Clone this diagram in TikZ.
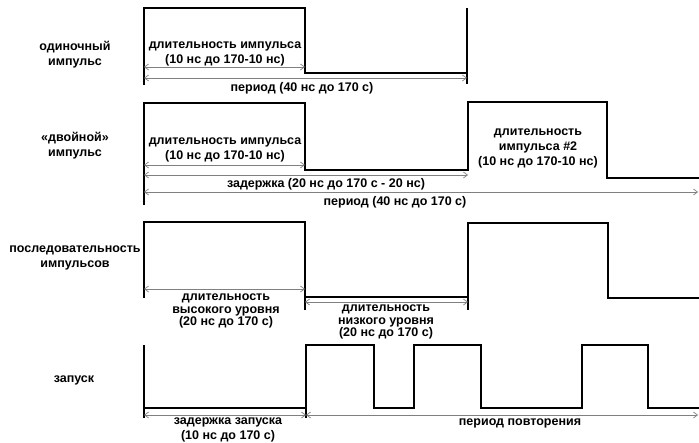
\documentclass[tikz,border=0pt]{standalone}
\usepackage{fontspec}
\setmainfont{Liberation Sans}
\usetikzlibrary{arrows.meta}
\begin{document}
\begin{tikzpicture}[
    x=1pt, y=-1pt,
    every node/.style={font=\fontsize{12.5}{15}\selectfont\bfseries, align=center, inner sep=0pt},
    tight/.style={font=\fontsize{12.5}{12.5}\selectfont\bfseries},
    sig/.style={line width=1.8pt, line join=miter},
    dim/.style={gray, line width=0.7pt, {Straight Barb[length=4pt,width=6pt]}-{Straight Barb[length=4pt,width=6pt]}}
]
\useasboundingbox (0,0) rectangle (699,443);

% одиночный импульс
\draw[sig] (144,85) -- (144,8) -- (305,8) -- (305,73) -- (467,73);
\draw[sig] (467,84) -- (467,8);
\coordinate (s1a) at (144,67); \coordinate (s1b) at (305,67);
\coordinate (s1c) at (144,78); \coordinate (s1d) at (467,78);
\draw[dim] (s1a) -- (s1b);
\draw[dim] (s1c) -- (s1d);
\node (single) at (75,55) {одиночный\\импульс};
\node (width1) at (225,54) {длительность импульса\\(10 нс до 170-10 нс)};
\node (period1) at (302,88) {период (40 нс до 170 с)};

% двойной импульс
\draw[sig] (144,205) -- (144,103) -- (305,103) -- (305,170) -- (468,170)
    -- (468,102) -- (607,102) -- (607,178) -- (699,178);
\coordinate (d1a) at (144,165); \coordinate (d1b) at (305,165);
\coordinate (d1c) at (144,175); \coordinate (d1d) at (468,175);
\coordinate (d1e) at (144,192); \coordinate (d1f) at (698,192);
\draw[dim] (d1a) -- (d1b);
\draw[dim] (d1c) -- (d1d);
\draw[dim] (d1e) -- (d1f);
\node (double) at (75,146) {«двойной»\\импульс};
\node (width2) at (225,150) {длительность импульса\\(10 нс до 170-10 нс)};
\node (delay2) at (326,184) {задержка (20 нс до 170 с - 20 нс)};
\node (period2) at (395,202) {период (40 нс до 170 с)};
\node (width22) at (538,148) {длительность\\импульса \#2\\(10 нс до 170-10 нс)};

% последовательность импульсов
\draw[sig] (144,298) -- (144,222) -- (305,222) -- (305,310);
\draw[sig] (305,297) -- (468,297);
\draw[sig] (468,310) -- (468,223) -- (608,223) -- (608,298) -- (699,298);
\coordinate (t1a) at (144,289); \coordinate (t1b) at (305,289);
\coordinate (t1c) at (305,302); \coordinate (t1d) at (468,302);
\draw[dim] (t1a) -- (t1b);
\draw[dim] (t1c) -- (t1d);
\node (train) at (75,258) {последовательность\\импульсов};
\node[tight] (high) at (226,311) {длительность\\высокого уровня\\(20 нс до 170 с)};
\node[tight] (low) at (386,322) {длительность\\низкого уровня\\(20 нс до 170 с)};

% запуск
\draw[sig] (144,418) -- (144,345);
\draw[sig] (144,408) -- (306,408);
\draw[sig] (306,418) -- (306,345) -- (374,345) -- (374,408) -- (414,408)
    -- (414,345) -- (481,345) -- (481,408) -- (582,408)
    -- (582,345) -- (648,345) -- (648,408) -- (699,408);
\coordinate (r1a) at (144,415); \coordinate (r1b) at (306,415);
\coordinate (r1c) at (698,415);
\draw[dim] (r1a) -- (r1b);
\draw[dim] (r1b) -- (r1c);
\node (trigger) at (74,380) {запуск};
\node (trigdelay) at (228,430) {задержка запуска\\(10 нс до 170 с)};
\node (repeat) at (520,423) {период повторения};

\end{tikzpicture}
\end{document}
